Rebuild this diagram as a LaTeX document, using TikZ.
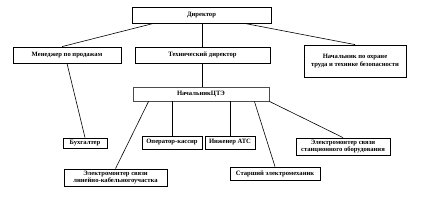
\documentclass[tikz,border=0pt]{standalone}
\usepackage{fontspec}
\setmainfont{Liberation Serif}
\usetikzlibrary{calc}

\begin{document}
\begin{tikzpicture}[
  x=1pt, y=-1pt,
  font=\bfseries\fontsize{6.6}{7.6}\selectfont,
  post/.style={draw, line width=0.8pt, fill=white, align=center, inner sep=0pt},
  link/.style={line width=0.6pt}
]
\useasboundingbox (0,0) rectangle (426,201);

\node[post, minimum width=139pt, minimum height=16pt] (dir) at (201.5,15) {Директор};
\node[post, minimum width=108pt, minimum height=16pt] (sales) at (67,55) {Менеджер по продажам};
\node[post, minimum width=135pt, minimum height=16pt] (tech) at (202.5,55) {Технический директор};
\node[post, minimum width=102pt, minimum height=32pt] (safety) at (355,61) {Начальник по охране\\труда и технике безопасности};
\node[post, minimum width=136pt, minimum height=14pt, draw=black!70] (cte) at (201,94) {НачальникЦТЭ};

\node[post, minimum width=44pt, minimum height=10pt] (acc) at (85,143) {Бухгалтер};
\node[post, minimum width=60pt, minimum height=13pt] (cash) at (172,142.5) {Оператор-кассир};
\node[post, minimum width=50pt, minimum height=13pt] (ats) at (230,142.5) {Инженер АТС};
\node[post, minimum width=103pt, minimum height=17pt] (cable) at (115.5,177.5) {Электромонтер связи\\линейно-кабельногоучастка};
\node[post, minimum width=90pt, minimum height=13pt] (mech) at (275,173.5) {Старший электромеханик};
\node[post, minimum width=94pt, minimum height=17pt] (station) at (343,146.5) {Электромонтер связи\\станционного оборудования};

\draw[link] ($(dir.south west)+(22,0)$) -- ($(sales.north)+(-5,0)$);
\draw[link] (dir.south -| tech.north) -- (tech.north);
\draw[link] ($(dir.south west)+(113,0)$) -- (safety.north);
\draw[link] (sales.south) -- (acc.north);
\draw[link] (tech.south) -- (tech.south |- cte.north);

\draw[link] ($(cte.south west)+(16,0)$) -- (cable.north);
\draw[link] (cash.north |- cte.south) -- (cash.north);
\draw[link] (ats.north |- cte.south) -- (ats.north);
\draw[link] ($(cte.south east)+(-15,0)$) -- (mech.north);
\draw[link] (cte.south east) -- (station.north);

\end{tikzpicture}
\end{document}
